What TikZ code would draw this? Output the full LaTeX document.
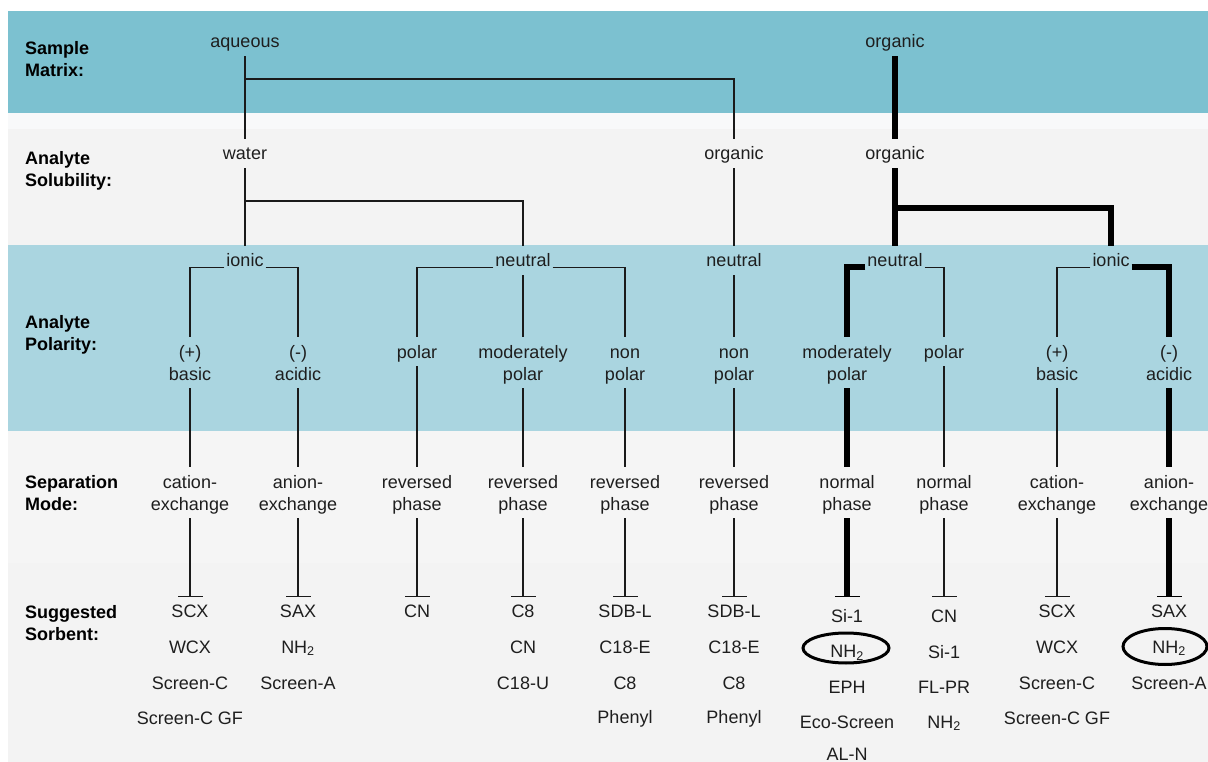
\documentclass[tikz,border=0pt]{standalone}
\usepackage{fontspec}
\setmainfont{Liberation Sans}
\usetikzlibrary{calc,arrows.meta}
\definecolor{bandA}{HTML}{7CC1D0}
\definecolor{bandB}{HTML}{F3F3F3}
\definecolor{stripB}{HTML}{F8F9FA}
\definecolor{bandC}{HTML}{AAD5E0}
\definecolor{bandD}{HTML}{F5F5F5}
\definecolor{bandE}{HTML}{F3F3F3}
\definecolor{txt}{HTML}{1E1E1E}
\definecolor{lncol}{HTML}{1A1A1A}
\begin{document}
\begin{tikzpicture}[x=1pt,y=-1pt,
  tx/.style={font=\fontsize{18}{22}\selectfont, text=txt, anchor=base, text height=17pt, text depth=4pt, inner xsep=2pt, inner ysep=4pt},
  lbl/.style={font=\fontsize{18}{22}\selectfont\bfseries, text=black, anchor=base west, inner sep=0pt},
  ln/.style={draw=lncol, line width=1.4pt},
  hl/.style={draw=black, line width=6pt, line join=miter},
  tstop/.style={-{Bar[width=25pt,line width=1.4pt]}},
  ring/.style={draw=black, line width=3pt},
]
% background bands
\fill[white] (0,0) rectangle (1208,762);
\fill[bandA] (8,11) rectangle (1208,113);
\fill[bandB] (8,113) rectangle (1208,245);
\fill[stripB] (8,113) rectangle (1208,129);
\fill[bandC] (8,245) rectangle (1208,431);
\fill[bandD] (8,431) rectangle (1208,563);
\fill[bandE] (8,563) rectangle (1208,762);
\useasboundingbox (0,0) rectangle (1208,762);

% row labels
\node[lbl] (l1a) at (25,54.5) {Sample};
\node[lbl] (l1b) at (25,76.5) {Matrix:};
\node[lbl] (l2a) at (25,164.5) {Analyte};
\node[lbl] (l2b) at (25,186.5) {Solubility:};
\node[lbl] (l3a) at (25,328.5) {Analyte};
\node[lbl] (l3b) at (25,350.5) {Polarity:};
\node[lbl] (l4a) at (25,488.5) {Separation};
\node[lbl] (l4b) at (25,510.5) {Mode:};
\node[lbl] (l5a) at (25,618) {Suggested};
\node[lbl] (l5b) at (25,640) {Sorbent:};

% helper levels
\coordinate (h1) at (0,79);
\coordinate (h2) at (0,201);
\coordinate (h3) at (0,208);
\coordinate (br) at (0,267.5);
\coordinate (tb) at (0,597);

% sample matrix
\node[tx] (aq) at (245,48) {aqueous};
\node[tx] (om) at (895,48) {organic};
% solubility
\node[tx] (wat) at (245,160) {water};
\node[tx] (oa) at (734,160) {organic};
\node[tx] (oo) at (895,160) {organic};
% ionic / neutral
\node[tx] (ionA) at (245,267) {ionic};
\node[tx] (neuA) at (523,267) {neutral};
\node[tx] (neuB) at (734,267) {neutral};
\node[tx] (neuC) at (895,267) {neutral};
\node[tx] (ionC) at (1111,267) {ionic};

% polarity
\node[tx] (pa1) at (190,358) {(+)};
\node[tx] (pa2) at (190,380) {basic};
\node[tx] (pb1) at (298,358) {(-)};
\node[tx] (pb2) at (298,380) {acidic};
\node[tx] (pc) at (417,358) {polar};
\node[tx] (pd1) at (523,358) {moderately};
\node[tx] (pd2) at (523,380) {polar};
\node[tx] (pe1) at (625,358) {non};
\node[tx] (pe2) at (625,380) {polar};
\node[tx] (pf1) at (734,358) {non};
\node[tx] (pf2) at (734,380) {polar};
\node[tx] (pg1) at (847,358) {moderately};
\node[tx] (pg2) at (847,380) {polar};
\node[tx] (ph) at (944,358) {polar};
\node[tx] (pk1) at (1057,358) {(+)};
\node[tx] (pk2) at (1057,380) {basic};
\node[tx] (pj1) at (1169,358) {(-)};
\node[tx] (pj2) at (1169,380) {acidic};

% separation mode
\node[tx] (sa1) at (190,488) {cation-};
\node[tx] (sa2) at (190,510) {exchange};
\node[tx] (sb1) at (298,488) {anion-};
\node[tx] (sb2) at (298,510) {exchange};
\node[tx] (sc1) at (417,488) {reversed};
\node[tx] (sc2) at (417,510) {phase};
\node[tx] (sd1) at (523,488) {reversed};
\node[tx] (sd2) at (523,510) {phase};
\node[tx] (se1) at (625,488) {reversed};
\node[tx] (se2) at (625,510) {phase};
\node[tx] (sf1) at (734,488) {reversed};
\node[tx] (sf2) at (734,510) {phase};
\node[tx] (sg1) at (847,488) {normal};
\node[tx] (sg2) at (847,510) {phase};
\node[tx] (sh1) at (944,488) {normal};
\node[tx] (sh2) at (944,510) {phase};
\node[tx] (sk1) at (1057,488) {cation-};
\node[tx] (sk2) at (1057,510) {exchange};
\node[tx] (sj1) at (1169,488) {anion-};
\node[tx] (sj2) at (1169,510) {exchange};

% sorbents
\node[tx] (ca1) at (190,617) {SCX};
\node[tx] (ca2) at (190,653) {WCX};
\node[tx] (ca3) at (190,689) {Screen-C};
\node[tx] (ca4) at (190,724) {Screen-C GF};
\node[tx] (cb1) at (298,617) {SAX};
\node[tx] (cb2) at (298,653) {NH\textsubscript{2}};
\node[tx] (cb3) at (298,689) {Screen-A};
\node[tx] (cc1) at (417,617) {CN};
\node[tx] (cd1) at (523,617) {C8};
\node[tx] (cd2) at (523,653) {CN};
\node[tx] (cd3) at (523,689) {C18-U};
\node[tx] (ce1) at (625,617) {SDB-L};
\node[tx] (ce2) at (625,653) {C18-E};
\node[tx] (ce3) at (625,689) {C8};
\node[tx] (ce4) at (625,723) {Phenyl};
\node[tx] (cf1) at (734,617) {SDB-L};
\node[tx] (cf2) at (734,653) {C18-E};
\node[tx] (cf3) at (734,689) {C8};
\node[tx] (cf4) at (734,723) {Phenyl};
\node[tx] (cg1) at (847,622) {Si-1};
\node[tx] (cg2) at (847,657.5) {NH\textsubscript{2}};
\node[tx] (cg3) at (847,693) {EPH};
\node[tx] (cg4) at (847,728) {Eco-Screen};
\node[tx] (cg5) at (847,760) {AL-N};
\node[tx] (ch1) at (944,622) {CN};
\node[tx] (ch2) at (944,658) {Si-1};
\node[tx] (ch3) at (944,693) {FL-PR};
\node[tx] (ch4) at (944,728) {NH\textsubscript{2}};
\node[tx] (ck1) at (1057,617) {SCX};
\node[tx] (ck2) at (1057,653) {WCX};
\node[tx] (ck3) at (1057,689) {Screen-C};
\node[tx] (ck4) at (1057,724) {Screen-C GF};
\node[tx] (cj1) at (1169,617) {SAX};
\node[tx] (cj2) at (1169,653) {NH\textsubscript{2}};
\node[tx] (cj3) at (1169,689) {Screen-A};

% ---- thin connectors ----
\draw[ln] (aq) -- (wat);
\draw[ln] (aq |- h1) -- (oa |- h1) -- (oa.north);
\draw[ln] (wat) -- (ionA);
\draw[ln] (wat |- h2) -- (neuA |- h2) -- (neuA.north);
\draw[ln] (oa) -- (neuB);
\draw[ln] (ionA.west |- br) -- (pa1 |- br) -- (pa1.north);
\draw[ln] (ionA.east |- br) -- (pb1 |- br) -- (pb1.north);
\draw[ln] (neuA.west |- br) -- (pc |- br) -- (pc.north);
\draw[ln] (neuA) -- (pd1);
\draw[ln] (neuA.east |- br) -- (pe1 |- br) -- (pe1.north);
\draw[ln] (neuB) -- (pf1);
\draw[ln] (neuC.east |- br) -- (ph |- br) -- (ph.north);
\draw[ln] (ionC.west |- br) -- (pk1 |- br) -- (pk1.north);

\draw[ln] (pa2) -- (sa1);
\draw[ln] (pb2) -- (sb1);
\draw[ln] (pc) -- (sc1);
\draw[ln] (pd2) -- (sd1);
\draw[ln] (pe2) -- (se1);
\draw[ln] (pf2) -- (sf1);
\draw[ln] (ph) -- (sh1);
\draw[ln] (pk2) -- (sk1);

\draw[ln,tstop] (sa2) -- (ca1 |- tb);
\draw[ln,tstop] (sb2) -- (cb1 |- tb);
\draw[ln,tstop] (sc2) -- (cc1 |- tb);
\draw[ln,tstop] (sd2) -- (cd1 |- tb);
\draw[ln,tstop] (se2) -- (ce1 |- tb);
\draw[ln,tstop] (sf2) -- (cf1 |- tb);
\draw[ln,tstop] (sh2) -- (ch1 |- tb);
\draw[ln,tstop] (sk2) -- (ck1 |- tb);

% ---- highlighted path ----
\draw[hl] (om) -- (oo);
\draw[hl] (oo) -- (neuC);
\draw[hl] (oo |- h3) -- (ionC |- h3) -- (ionC.north);
\draw[hl] (neuC.west |- br) -- (pg1 |- br) -- (pg1.north);
\draw[hl] (ionC.east |- br) -- (pj1 |- br) -- (pj1.north);
\draw[hl] (pg2) -- (sg1);
\draw[hl] (pj2) -- (sj1);
\draw[hl,tstop] (sg2) -- (cg1 |- tb);
\draw[hl,tstop] (sj2) -- (cj1 |- tb);

% circled sorbents
\draw[ring] ($(cg2.center)+(-1,-3)$) ellipse [x radius=43, y radius=15];
\draw[ring] ($(cj2.center)+(-4,0)$) ellipse [x radius=42, y radius=18];
\end{tikzpicture}
\end{document}
